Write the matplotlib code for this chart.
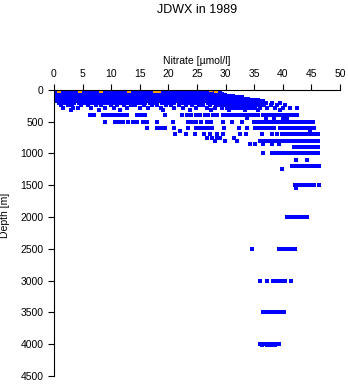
import numpy as np
import matplotlib.pyplot as plt

plt.rcParams['font.family'] = ['Liberation Sans', 'DejaVu Sans']

# nitrate [umol/l] per sampling depth [m]
levels = {
    0: [0.2, 0.7, 1.3, 1.9, 2.4, 3.0, 3.6, 4.1, 4.7, 5.3, 5.8, 6.4, 7.0, 7.5, 8.1, 8.7, 9.2, 9.8,
        10.4, 10.9, 11.5, 12.1, 12.6, 13.2, 13.8, 14.3, 14.9, 15.5, 16.0, 16.6, 17.2, 17.7, 18.3,
        18.9, 19.4, 20.0, 20.6, 21.1, 21.7, 23.3, 23.9, 24.5, 25.0, 25.6, 26.2, 27.0, 27.8, 28.5],
    20: [0.1, 0.8, 1.4, 2.0, 2.6, 3.2, 3.8, 4.4, 5.0, 5.6, 6.2, 6.8, 7.4, 8.0, 8.6, 9.2, 9.8,
         10.4, 11.0, 11.6, 12.2, 12.8, 13.4, 14.0, 14.6, 15.2, 15.8, 16.4, 17.0, 17.6, 18.2, 18.8,
         19.4, 20.0, 20.6, 21.2, 21.8, 22.4, 23.0, 23.6, 24.2, 24.8, 25.4, 26.0, 26.6, 27.2, 28.0],
    40: [0.0, 0.6, 1.1, 1.7, 2.3, 2.8, 3.4, 4.0, 4.5, 5.1, 5.7, 6.2, 6.8, 7.4, 7.9, 8.5, 9.1, 9.6,
         10.2, 10.8, 11.3, 11.9, 12.5, 13.0, 13.6, 14.2, 14.7, 15.3, 15.9, 16.4, 17.0, 17.6, 18.1,
         18.7, 19.3, 19.8, 20.4, 21.0, 21.5, 22.1, 22.7, 23.2, 23.8, 24.4, 24.9, 25.5, 26.1, 26.6,
         27.2, 27.9, 28.6, 29.1],
    60: [0.3, 0.9, 1.5, 2.1, 2.7, 3.3, 3.9, 4.5, 5.1, 5.7, 6.3, 6.9, 7.5, 8.1, 8.7, 9.3, 9.9,
         10.5, 11.1, 11.7, 12.3, 12.9, 13.5, 14.1, 14.7, 15.3, 15.9, 16.5, 17.1, 17.7, 18.3, 18.9,
         19.5, 20.1, 20.7, 21.3, 21.9, 22.5, 23.1, 23.7, 24.3, 24.9, 25.5, 26.1, 26.7, 27.3, 27.9,
         28.5, 29.3],
    80: [0.1, 0.7, 1.2, 1.8, 2.4, 2.9, 3.5, 4.1, 4.6, 5.2, 5.8, 6.3, 6.9, 7.5, 8.0, 8.6, 9.2, 9.7,
         10.3, 10.9, 11.4, 12.0, 12.6, 13.1, 13.7, 14.3, 14.8, 15.4, 16.0, 16.5, 17.1, 17.7, 18.2,
         18.8, 19.4, 19.9, 20.5, 21.1, 21.6, 22.2, 22.8, 23.3, 23.9, 24.5, 25.0, 25.6, 26.2, 26.7,
         27.3, 27.9, 28.5, 29.2, 29.9],
    100: [0.0, 0.6, 1.2, 1.8, 2.4, 3.0, 3.6, 4.2, 4.8, 5.4, 6.0, 6.6, 7.2, 7.8, 8.4, 9.0, 9.6,
          10.2, 10.8, 11.4, 12.0, 12.6, 13.2, 13.8, 14.4, 15.0, 15.6, 16.2, 16.8, 17.4, 18.0, 18.6,
          19.2, 19.8, 20.4, 21.0, 21.6, 22.2, 22.8, 23.4, 24.0, 24.6, 25.2, 25.8, 26.4, 27.0, 27.6,
          28.2, 28.8, 29.4, 30.0, 30.6, 31.3],
    120: [0.2, 0.8, 1.3, 1.9, 2.5, 3.0, 3.6, 4.2, 4.7, 5.3, 5.9, 6.4, 7.0, 7.6, 8.1, 8.7, 9.3,
          9.8, 10.4, 11.0, 11.5, 12.1, 12.7, 13.2, 13.8, 14.4, 14.9, 15.5, 16.1, 16.6, 17.2, 17.8,
          18.3, 18.9, 19.5, 20.0, 20.6, 21.2, 21.7, 22.3, 22.9, 23.4, 24.0, 24.6, 25.1, 25.7, 26.3,
          26.8, 27.4, 28.0, 28.6, 29.2, 29.8, 30.4, 31.0, 31.6, 32.2, 32.9],
    140: [0.3, 0.9, 1.5, 2.1, 2.7, 3.3, 3.9, 4.5, 5.1, 5.7, 6.3, 6.9, 7.5, 8.1, 8.7, 9.3, 9.9,
          10.5, 11.1, 11.7, 12.3, 12.9, 13.5, 14.1, 14.7, 15.3, 15.9, 16.5, 17.1, 17.7, 18.3, 18.9,
          19.5, 20.1, 20.7, 21.3, 21.9, 22.5, 23.1, 23.7, 24.3, 24.9, 25.5, 26.1, 26.7, 27.3, 27.9,
          28.5, 29.1, 29.7, 30.3, 30.9, 31.5, 32.1, 32.7, 33.3, 34.0],
    160: [0.4, 1.0, 1.6, 2.2, 2.7, 3.3, 3.9, 4.4, 5.0, 5.6, 6.1, 6.7, 7.3, 7.8, 8.4, 9.0, 9.5,
          10.1, 10.7, 11.2, 11.8, 12.4, 12.9, 13.5, 14.1, 14.6, 15.2, 15.8, 16.3, 16.9, 17.5, 18.0,
          18.6, 19.2, 19.7, 20.3, 20.9, 21.4, 22.0, 22.6, 23.1, 23.7, 24.3, 24.8, 25.4, 26.0, 26.5,
          27.1, 27.7, 28.3, 28.9, 29.5, 30.1, 30.7, 31.3, 31.9, 32.5, 33.1, 33.7, 34.3, 35.0, 35.6],
    180: [0.6, 1.3, 2.0, 2.6, 3.4, 4.0, 4.9, 5.5, 6.2, 7.0, 7.7, 8.3, 9.1, 9.8, 10.5, 11.3, 12.0,
          12.7, 13.5, 14.2, 14.9, 15.6, 16.4, 17.1, 17.8, 18.6, 19.3, 20.0, 20.8, 21.5, 22.2, 23.0,
          23.7, 24.4, 25.2, 25.9, 26.6, 27.4, 28.1, 28.8, 29.5, 30.2, 30.9, 31.6, 32.3, 33.0, 33.7,
          34.4, 35.1, 35.8, 36.5],
    200: [0.8, 1.5, 2.1, 2.9, 3.5, 4.3, 5.0, 5.8, 6.5, 7.1, 7.9, 8.8, 9.4, 10.1, 10.9, 11.6,
          12.4, 13.1, 13.9, 14.5, 15.2, 16.0, 16.8, 17.5, 18.1, 18.9, 19.7, 20.3, 21.0, 21.8, 22.5,
          23.3, 24.0, 24.7, 25.4, 26.1, 26.9, 27.6, 28.3, 28.9, 29.6, 30.2, 30.9, 31.5, 32.1, 32.7,
          33.3, 33.9, 34.5, 35.1, 35.7, 36.3, 37.0, 38.2, 39.5],
    240: [1.2, 2.5, 3.1, 4.8, 6.0, 7.4, 8.2, 9.9, 11.0, 12.3, 13.5, 14.2, 15.8, 17.1, 18.0, 19.6,
          20.4, 21.9, 23.0, 24.1, 25.3, 26.0, 27.2, 28.4, 29.0, 29.7, 30.4, 31.1, 31.8, 32.5, 33.2,
          33.9, 34.6, 35.3, 36.0, 36.8, 37.9, 39.0, 40.3],
    280: [1.6, 3.3, 4.2, 6.5, 8.9, 10.5, 12.8, 15.1, 16.5, 18.7, 20.9, 22.6, 24.8, 26.7, 28.1,
          29.4, 30.2, 31.0, 31.7, 32.4, 33.1, 33.8, 34.5, 35.2, 36.0, 37.3, 38.6, 40.0, 41.2, 42.5],
    320: [2.9, 7.8, 11.6, 19.0, 23.8, 27.5, 30.6, 33.4, 35.7, 39.6],
    400: [6.3, 7.0, 8.6, 9.3, 10.0, 10.7, 11.3, 12.0, 12.7, 14.6, 15.3, 16.0, 19.4, 22.4, 23.3,
          24.0, 24.8, 25.6, 26.4, 27.0, 27.8, 28.5, 29.6, 30.3, 31.0, 31.6, 32.3, 33.0, 33.7, 34.3,
          35.0, 35.7, 36.5, 37.2, 37.8, 38.5, 39.2, 39.9, 40.6, 41.3, 42.0, 42.5],
    445: [33.8, 37.0, 38.4, 40.1, 40.8],
    500: [8.9, 10.6, 11.3, 12.0, 13.0, 13.8, 14.6, 15.5, 16.3, 18.0, 20.8, 23.4, 24.1, 24.9, 25.7,
          26.8, 27.5, 29.6, 31.2, 32.9, 34.9, 35.6, 36.3, 37.0, 37.6, 38.3, 39.0, 39.7, 40.4, 41.1,
          41.8, 42.5, 43.2, 43.9, 44.6, 45.2],
    600: [16.2, 18.1, 18.7, 19.4, 21.0, 23.5, 24.8, 25.5, 26.2, 27.0, 27.6, 29.8, 32.3, 33.8,
          35.2, 35.9, 36.6, 37.3, 38.0, 38.4, 39.6, 40.1, 40.5, 41.2, 41.9, 42.6, 43.3, 44.0, 44.7,
          45.4],
    645: [22.0, 44.7],
    700: [21.2, 23.1, 24.6, 26.2, 27.3, 28.5, 29.6, 32.6, 33.5, 36.4, 38.1, 39.0, 39.9, 40.6,
          41.3, 42.0, 42.7, 43.4, 44.1, 44.8, 45.5, 46.2],
    750: [26.7, 27.6, 28.5, 29.0, 31.4],
    800: [28.2, 29.9, 32.0, 36.1, 36.8, 37.4, 38.1, 38.7, 39.3, 40.0, 40.7, 41.4, 42.1, 42.8,
          43.5, 44.2, 44.9, 45.6, 46.1],
    850: [34.3, 35.2, 36.6, 38.1, 39.3],
    900: [42.0, 42.7, 43.4, 44.1, 44.8, 45.5, 46.1],
    1000: [36.6, 38.1, 38.8, 39.6, 40.2, 40.9, 41.6, 42.3, 43.0, 43.7, 44.4, 45.1, 45.8, 46.2],
    1100: [42.3, 44.3],
    1200: [41.6, 42.3, 43.0, 43.7, 44.4, 45.1, 45.7, 46.3],
    1250: [39.9],
    1500: [42.2, 42.9, 43.6, 44.3, 45.0, 45.4, 46.3],
    1550: [42.3],
    2000: [40.8, 41.5, 42.2, 42.9, 43.6, 44.3],
    2500: [34.6, 39.3, 40.0, 40.7, 41.4, 42.1],
    3000: [36.1, 37.3, 38.3, 39.0, 39.7, 40.4, 41.4],
    3500: [36.5, 37.3, 37.7, 38.4, 39.0, 39.6, 40.2],
    4000: [36.1, 36.8, 37.5, 38.2, 38.9, 39.3],
    4020: [36.4, 37.2, 38.0, 38.7],
}

# flagged surface samples
flag_nitrate = [0.8, 4.5, 8.3, 13.2, 17.7, 18.4, 27.4, 28.4]
flag_depth = [25, 25, 25, 25, 15, 15, 5, 15]

depth = []
nitrate = []
for d, vals in levels.items():
    depth += [d] * len(vals)
    nitrate += vals

fig = plt.figure(figsize=(3.48, 3.84), dpi=100)
ax = fig.add_axes([0.155, 0.021, 0.822, 0.745])

ax.scatter(nitrate, depth, s=9, marker='s', color='#0000ff', linewidths=0, antialiased=False)
ax.scatter(flag_nitrate, flag_depth, s=9, marker='s', color='#ffa500', linewidths=0, antialiased=False)

ax.set_xlim(0, 50)
ax.set_ylim(4500, 0)
ax.set_xticks(np.arange(0, 51, 5))
ax.set_yticks(np.arange(0, 4501, 500))
ax.xaxis.set_ticks_position('top')
ax.xaxis.set_label_position('top')
ax.spines['right'].set_visible(False)
ax.spines['bottom'].set_visible(False)
ax.tick_params(labelsize=7.5, length=4.5, width=0.8, pad=3)

ax.set_xlabel('Nitrate [µmol/l]', fontsize=7.5, labelpad=4)
ax.set_ylabel('Depth [m]', fontsize=7.5)
ax.yaxis.set_label_coords(-0.152, 0.56)
fig.text(0.566, 0.974, 'JDWX in 1989', ha='center', va='center', fontsize=9)

plt.savefig('out.png', dpi=100)
